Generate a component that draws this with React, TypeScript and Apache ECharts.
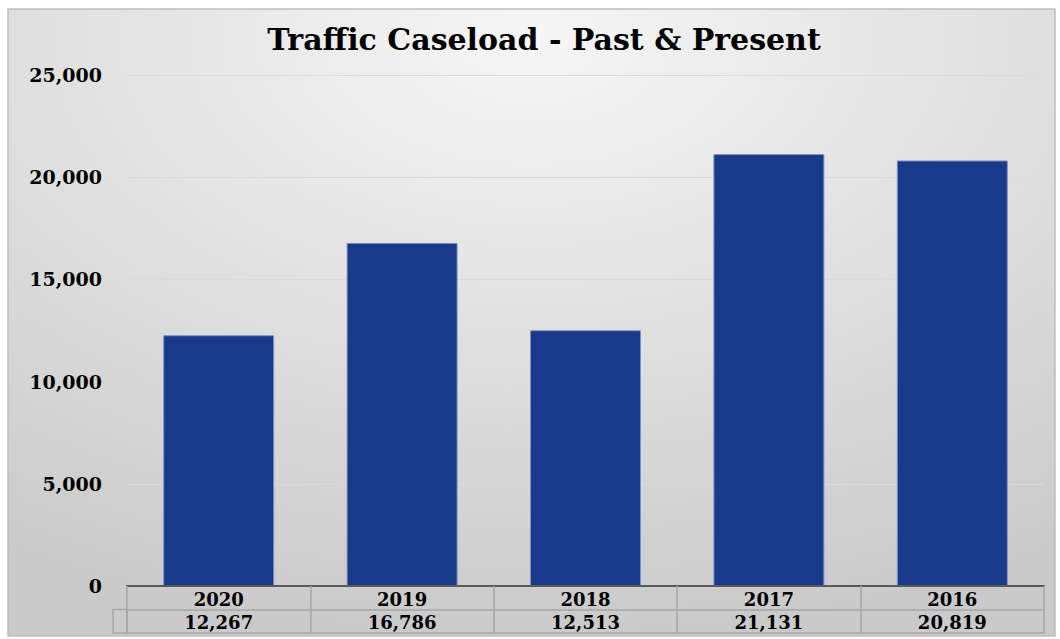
import React, { useEffect, useRef } from "react";
import * as echarts from "echarts";

const TITLE = "Traffic Caseload - Past & Present";
const years = ["2020", "2019", "2018", "2017", "2016"];
const caseloads = [12267, 16786, 12513, 21131, 20819];
const yMin = 0;
const yMax = 25000;
const yInterval = 5000;

const fmt = (v: number) => v.toLocaleString("en-US");

const FONT = "'DejaVu Serif', 'Liberation Serif', serif";
const GRID_LEFT = 127;
const GRID_RIGHT = 16;
const GRID_TOP = 75;
const GRID_BOTTOM = 53;
const ROW_H = 23.5;
const TABLE_LINE = "#a6a6a6";

export default function App() {
  const ref = useRef<HTMLDivElement>(null);
  useEffect(() => {
    if (!ref.current) return;
    const chart = echarts.init(ref.current, undefined, { renderer: "svg" });
    const H = 639;
    const axisY = H - GRID_BOTTOM;
    chart.setOption({
      animation: false,
      backgroundColor: "#ffffff",
      title: {
        text: TITLE,
        left: 539,
        top: 19,
        textAlign: "center",
        textStyle: { fontFamily: FONT, fontWeight: "bold", fontSize: 30, color: "#000" },
      },
      graphic: [
        {
          type: "rect",
          z: -100,
          silent: true,
          shape: { x: 8, y: 9, width: 1047, height: 627 },
          style: {
            fill: new echarts.graphic.RadialGradient(0.5, 0.05, 0.95, [
              { offset: 0, color: "#f6f6f6" },
              { offset: 1, color: "#cacaca" },
            ]),
            stroke: "#bfbfbf",
            lineWidth: 1.5,
          },
        },
        {
          type: "rect",
          z: 5,
          silent: true,
          shape: { x: GRID_LEFT - 14, y: axisY + ROW_H, width: 14, height: ROW_H },
          style: { fill: "transparent", stroke: TABLE_LINE, lineWidth: 1.5 },
        },
      ],
      grid: { left: GRID_LEFT, right: GRID_RIGHT, top: GRID_TOP, bottom: GRID_BOTTOM, containLabel: false },
      xAxis: [
        {
          type: "category",
          data: years,
          position: "bottom",
          axisLine: { show: true, lineStyle: { color: "#595959", width: 2 } },
          axisTick: { show: true, length: ROW_H * 2, lineStyle: { color: TABLE_LINE, width: 1.5 } },
          axisLabel: { margin: 4, fontFamily: FONT, fontWeight: "bold", fontSize: 18, color: "#000" },
          splitLine: { show: false },
          z: 5,
        },
        {
          type: "category",
          data: caseloads.map(fmt),
          position: "bottom",
          offset: ROW_H,
          axisLine: { show: true, lineStyle: { color: TABLE_LINE, width: 1.5 } },
          axisTick: { show: false },
          axisLabel: { margin: 4, fontFamily: FONT, fontWeight: "bold", fontSize: 18, color: "#000" },
          z: 5,
        },
        {
          type: "category",
          data: years,
          position: "bottom",
          offset: ROW_H * 2,
          axisLine: { show: true, lineStyle: { color: TABLE_LINE, width: 1.5 } },
          axisTick: { show: false },
          axisLabel: { show: false },
          z: 5,
        },
      ],
      yAxis: {
        type: "value",
        min: yMin,
        max: yMax,
        interval: yInterval,
        axisLine: { show: false },
        axisTick: { show: false },
        axisLabel: {
          margin: 25,
          formatter: (v: number) => fmt(v),
          fontFamily: FONT,
          fontWeight: "bold",
          fontSize: 19,
          color: "#000",
        },
        splitLine: { show: true, lineStyle: { color: "#dadada", width: 1 } },
      },
      series: [
        {
          type: "bar",
          data: caseloads,
          xAxisIndex: 0,
          barWidth: "60.5%",
          itemStyle: { color: "#1a3988", borderColor: "#7d90c4", borderWidth: 1 },
        },
      ],
    });
    return () => chart.dispose();
  }, []);
  return <div ref={ref} style={{ position: "fixed", left: 0, top: 0, width: 1060, height: 639 }} />;
}
